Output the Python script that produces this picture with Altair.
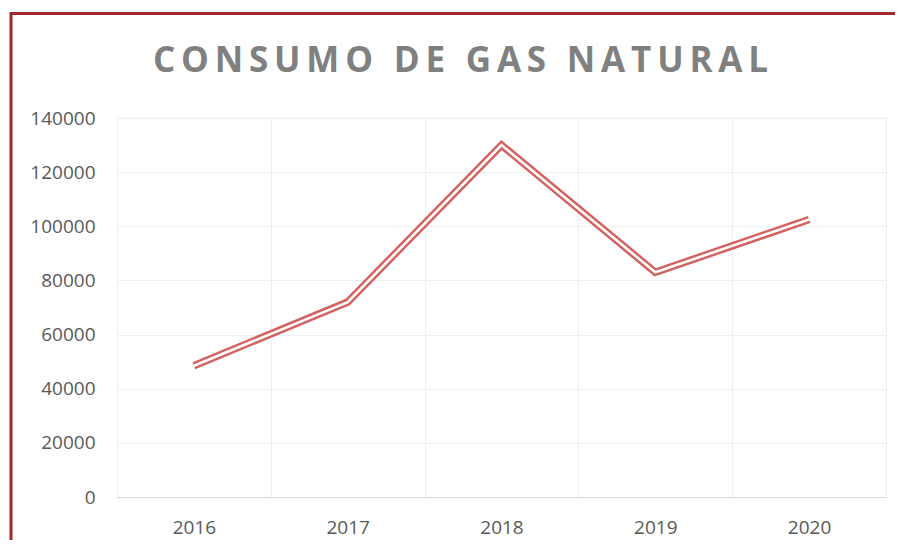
import altair as alt
import pandas as pd

years = ["2016", "2017", "2018", "2019", "2020"]
consumo = [48500, 72000, 130000, 83000, 102500]
y_ticks = [0, 20000, 40000, 60000, 80000, 100000, 120000, 140000]
title_text = "CONSUMO DE GAS NATURAL"

THIN = "\u2009"
spaced_title = THIN.join(list(title_text))

df = pd.DataFrame({"year": years, "consumo": consumo})
frame_df = pd.DataFrame({"k": [0]})

FONT = "Open Sans"
LABEL_COLOR = "#595959"
GRID = "#efefef"

x_enc = alt.X(
    "year:O",
    sort=years,
    bandPosition=0.5,
    scale=alt.Scale(type="band", paddingInner=0, paddingOuter=0),
    axis=alt.Axis(
        title=None, labelAngle=0, ticks=False, domainColor="#d9d9d9",
        grid=True, gridColor=GRID, tickBand="extent", labelPadding=21,
        labelFontSize=19, labelColor=LABEL_COLOR, labelFont=FONT,
    ),
)
y_enc = alt.Y(
    "consumo:Q",
    scale=alt.Scale(domain=[0, 140000], nice=False),
    axis=alt.Axis(
        title=None, values=y_ticks, format="d", domain=False, ticks=False,
        grid=True, gridColor=GRID, labelPadding=22, labelFontSize=19,
        labelColor=LABEL_COLOR, labelFont=FONT,
    ),
)

base = alt.Chart(df).encode(x=x_enc, y=y_enc)
outer = base.mark_line(color="#d3625f", strokeWidth=7.5, strokeJoin="miter", strokeCap="butt")
inner = base.mark_line(color="white", strokeWidth=2.6, strokeJoin="miter", strokeCap="butt")

frame_top = alt.Chart(frame_df).mark_rule(color="#a3282a", strokeWidth=3).encode(
    x=alt.value(-106), x2=alt.value(820), y=alt.value(-104.5)
)
frame_left = alt.Chart(frame_df).mark_rule(color="#a3282a", strokeWidth=3).encode(
    x=alt.value(-106), y=alt.value(-106), y2=alt.value(500)
)

chart = alt.layer(outer, inner, frame_top, frame_left).properties(
    width=769,
    height=379,
    autosize=alt.AutoSizeParams(type="none"),
    padding={"left": 109, "top": 110, "right": 9, "bottom": 43},
    title=alt.TitleParams(
        spaced_title, font=FONT, fontSize=35, fontWeight="bold", color="#808080",
        anchor="middle", dx=-41, offset=-96, baseline="alphabetic",
    ),
).configure_view(stroke=None).configure(background="white")

chart.save("out.html", embed_options={"renderer": "svg", "actions": False})
